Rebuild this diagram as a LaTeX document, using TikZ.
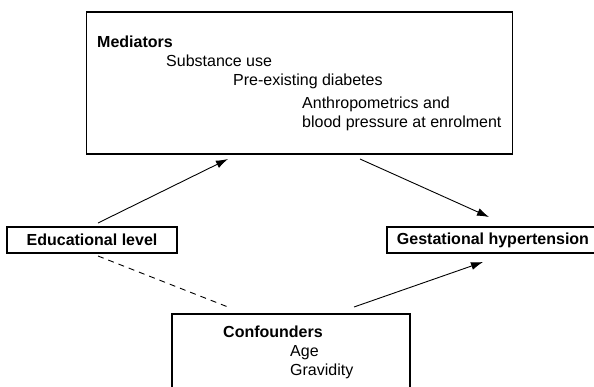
\documentclass[tikz,border=0pt]{standalone}
\usepackage{fontspec}
\setmainfont{Liberation Sans}
\usetikzlibrary{arrows.meta}
\begin{document}
\begin{tikzpicture}[x=1pt,y=-1pt,
  box/.style={draw,line width=1.1pt,inner sep=0pt},
  lbl/.style={anchor=base west,inner sep=0pt,font=\fontsize{16}{19}\selectfont},
  blbl/.style={lbl,font=\fontsize{16}{19}\selectfont\bfseries},
  arr/.style={line width=0.9pt,-{Latex[length=12pt,width=8pt]}},
  dsh/.style={line width=0.9pt,dash pattern=on 6pt off 5pt}]
\clip (0,0) rectangle (594,386);
\fill[white] (0,0) rectangle (594,386);
% Mediators box
\node[box,minimum width=426pt,minimum height=142pt] (med) at (299.5,83) {};
\node[blbl] (medt) at (97,47) {Mediators};
\node[lbl] (m1) at (166,66) {Substance use};
\node[lbl] (m2) at (233,85) {Pre-existing diabetes};
\node[lbl] (m3) at (302,108) {Anthropometrics and};
\node[lbl] (m4) at (302,127) {blood pressure at enrolment};
% Exposure and outcome
\node[box,minimum width=170pt,minimum height=26pt,font=\fontsize{16}{19}\selectfont\bfseries] (edu) at (92,240) {Educational level};
\node[box,minimum width=212pt,minimum height=26pt,font=\fontsize{16}{19}\selectfont\bfseries] (ges) at (493,240) {Gestational hypertension};
% Confounders box
\node[box,minimum width=238pt,minimum height=120pt] (conf) at (291,374) {};
\node[blbl] (ct) at (223,337) {Confounders};
\node[lbl] (c1) at (290,356) {Age};
\node[lbl] (c2) at (290,375) {Gravidity};
% connector ends
\coordinate (a1s) at (98,223);
\coordinate (a1e) at (228,159);
\coordinate (a2s) at (360,159);
\coordinate (a2e) at (489,217);
\coordinate (ds) at (98,256);
\coordinate (de) at (228,307);
\coordinate (a3s) at (354,307);
\coordinate (a3e) at (483,262);
\draw[arr] (a1s) -- (a1e);
\draw[arr] (a2s) -- (a2e);
\draw[arr] (a3s) -- (a3e);
\draw[dsh] (ds) -- (de);
\end{tikzpicture}
\end{document}
